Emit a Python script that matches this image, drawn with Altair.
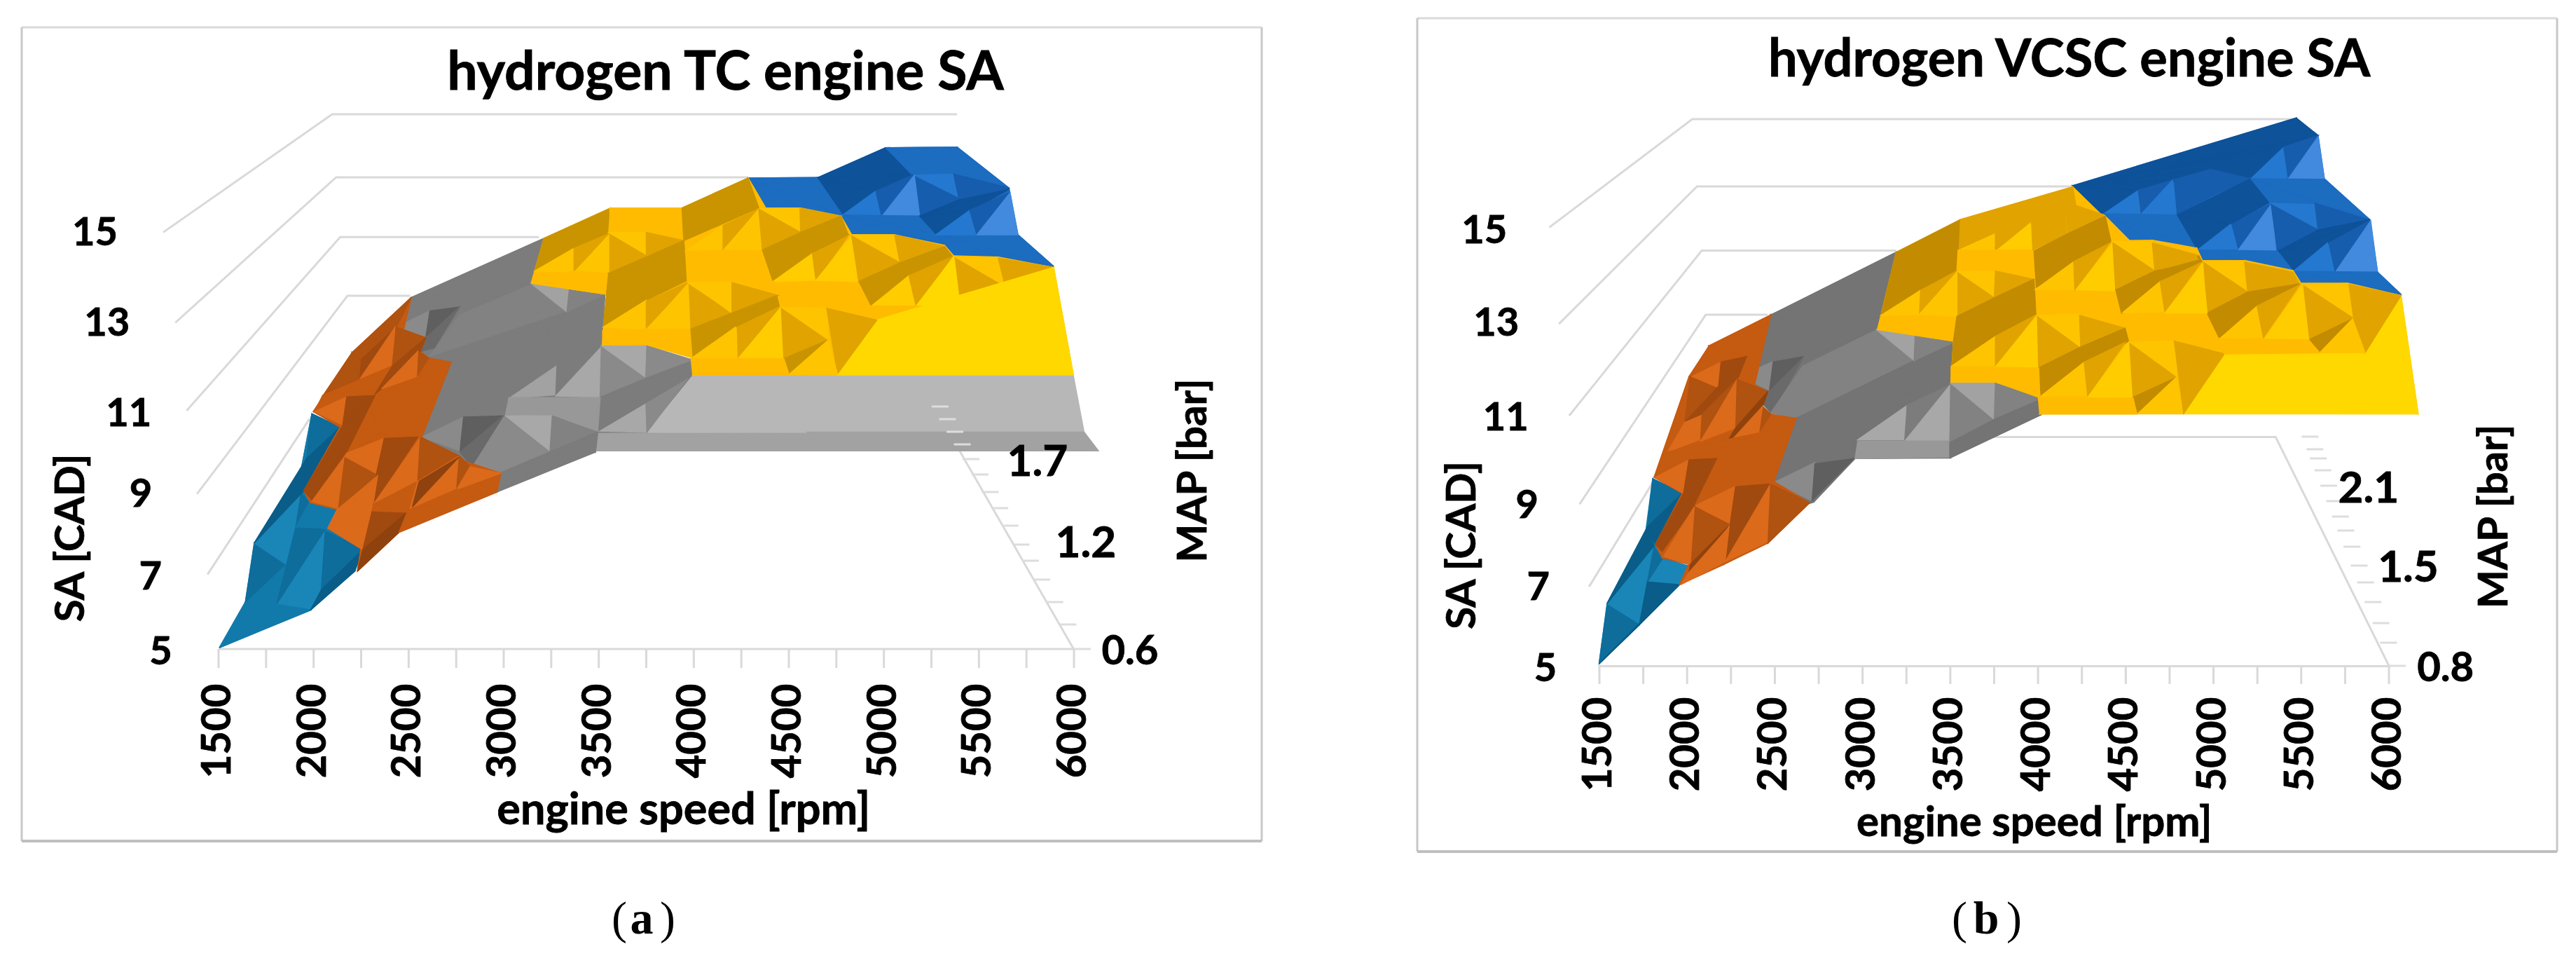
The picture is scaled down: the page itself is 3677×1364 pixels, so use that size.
import altair as alt
import pandas as pd

alt.data_transformers.disable_max_rows()

# ---- values -------------------------------------------------------------
RPM_TICKS = list(range(1500, 6001, 250))
RPM_LABELS = list(range(1500, 6001, 500))
SA_TICKS = [5, 7, 9, 11, 13, 15]

SHADES = {
    "t1": "#1A86B8", "t2": "#127AAB", "t3": "#0F6D9B", "t4": "#0A5D88",
    "o1": "#DC6A1B", "o2": "#C55A11", "o3": "#B05210", "o4": "#A04A0F", "o5": "#8F420D",
    "y1": "#A8A8A8", "y2": "#8A8A8A", "y3": "#7C7C7C", "y4": "#6A6A6A", "y5": "#5F5F5F",
    "y6": "#989898", "y7": "#B7B7B7", "y8": "#A2A2A2", "y9": "#747474", "y0": "#828282",
    "g1": "#FFD800", "g2": "#FFCC00", "g3": "#FFC400", "g4": "#FFBB00", "g5": "#E0A300",
    "g6": "#C99400", "g7": "#C28B00",
    "b1": "#418ADE", "b2": "#2478CF", "b3": "#1C6CC0", "b4": "#175DAD", "b5": "#0E5299",
}

# reading frames of the digitised vertices: x0, y0, sx, sy
Z1 = (0, 0, 1.148, 0.872)
Z2 = (1900, 0, 1.133, 0.872)
Z3 = (250, 350, 0.3827, 0.3827)
Z4 = (800, 180, 0.5102, 0.3333)
Z5 = (2250, 350, 0.3827, 0.3827)
Z6 = (2800, 150, 0.4464, 0.3333)
Z7 = (650, 330, 1 / 3, 1 / 3)
Z8 = (2650, 250, 1 / 3, 1 / 3)

TEAL_A = [
    ("t2", [(400,1200),(165,1500),(262,1330),(295,1110),(490,800),(510,628),(615,678),(480,915),(505,960),(600,985),(565,1055),(700,1135),(670,1215),(505,1360),(330,1430),(165,1500)]),
    ("t2", [(165,1500),(262,1330),(410,1195),(380,1335),(505,1360),(330,1430)]),
    ("t3", [(262,1330),(295,1115),(410,1190)]),
    ("t1", [(295,1110),(470,925),(450,1050),(415,1190)]),
    ("t3", [(450,1050),(560,1060),(380,1335)]),
    ("t1", [(385,1335),(560,1065),(550,1285),(505,1355)]),
    ("t3", [(560,1065),(700,1135),(545,1285)]),
    ("t4", [(545,1285),(700,1135),(670,1215),(505,1360)]),
    ("t3", [(470,925),(500,960),(450,1050)]),
    ("t2", [(500,960),(600,985),(565,1055),(450,1050)]),
    ("t3", [(510,628),(615,678),(490,800)]),
    ("t4", [(490,795),(615,678),(480,915),(295,1110)]),
]
ORANGE_A = [
    ("o2", [(760,700),(515,620),(660,400),(880,195),(825,305),(935,345),(915,395),(945,420),(1030,435),(920,715),(1100,825),(1215,850),(1200,920),(835,1070),(680,1215),(700,1135),(570,1055),(605,985),(505,960),(480,915),(615,678),(515,620)]),
    ("o3", [(660,400),(880,195),(825,305),(690,430)]),
    ("o4", [(825,305),(685,505),(695,425)]),
    ("o1", [(820,305),(810,450),(685,505)]),
    ("o3", [(825,305),(935,345),(810,450)]),
    ("o3", [(660,400),(690,430),(685,500),(555,555)]),
    ("o2", [(550,560),(685,505),(810,450),(770,530),(520,620)]),
    ("o1", [(520,620),(640,565),(625,670)]),
    ("o4", [(640,565),(745,560),(625,670)]),
    ("o4", [(745,560),(640,770),(510,950),(480,915),(620,680)]),
    ("o4", [(935,345),(915,395),(770,535),(745,555),(810,450)]),
    ("o3", [(905,395),(945,420),(900,490)]),
    ("o1", [(905,395),(900,490),(770,535)]),
    ("o1", [(640,775),(780,720),(750,855),(630,790)]),
    ("o4", [(780,720),(905,715),(740,965),(750,855)]),
    ("o3", [(630,790),(750,855),(610,985)]),
    ("o1", [(630,790),(605,980),(510,955)]),
    ("o1", [(915,715),(905,880),(740,965)]),
    ("o3", [(915,715),(1060,785),(905,880)]),
    ("o1", [(755,860),(735,985),(700,1135),(570,1055),(605,985)]),
    ("o4", [(735,990),(865,995),(700,1135)]),
    ("o5", [(865,995),(835,1070),(680,1215),(700,1135)]),
    ("o2", [(740,965),(905,880),(875,985),(865,995),(735,990)]),
    ("o1", [(905,880),(1060,785),(1050,910),(875,985)]),
    ("o5", [(910,880),(1058,790),(885,975)]),
    ("o3", [(1060,785),(1100,825),(1050,910)]),
    ("o1", [(1100,825),(1215,850),(1050,910)]),
    ("o2", [(875,985),(1050,910),(1200,920),(835,1070),(865,995)]),
]
GRAY_A = [
    ("y3", [(300,500),(-190,284),(380,30),(325,225),(490,228),(640,275),(625,490),(820,490),(1015,555),(1015,615),(820,860),(610,860),(600,945),(178,1116),(195,1036),(63,1007),(-144,881),(-18,559),(-115,542),(-155,510),(-127,456),(-253,410),(-190,284)]),
    ("y3", [(-190,284),(380,30),(325,225),(17,358),(-109,341)]),
    ("y0", [(17,358),(325,228),(478,345),(-115,542),(-40,440)]),
    ("y3", [(478,345),(640,275),(625,490),(430,575),(220,735),(205,790),(35,795),(-144,881),(-18,559),(-115,542)]),
    ("y2", [(-253,410),(-109,341),(-127,456)]),
    ("y5", [(-109,341),(17,324),(-127,456)]),
    ("y4", [(-127,456),(17,324),(-90,499),(-150,515)]),
    ("y8", [(330,228),(490,228),(478,345)]),
    ("y0", [(490,228),(640,270),(478,345)]),
    ("y8", [(230,715),(435,575),(430,700)]),
    ("y3", [(435,575),(620,495),(430,700)]),
    ("y1", [(430,705),(625,495),(620,710)]),
    ("y2", [(625,495),(815,625),(620,710)]),
    ("y1", [(625,490),(820,490),(815,625)]),
    ("y2", [(820,490),(1015,550),(815,625)]),
    ("y7", [(1017,618),(1500,618),(1500,860),(820,860)]),
    ("y1", [(615,855),(815,700),(820,860)]),
    ("y2", [(815,700),(1000,625),(820,860)]),
    ("y3", [(815,630),(1015,555),(1015,615),(610,855),(620,710)]),
    ("y6", [(230,712),(620,712),(610,855),(415,790),(215,785),(220,760)]),
    ("y1", [(215,790),(415,790),(405,945)]),
    ("y0", [(415,790),(605,860),(405,945)]),
    ("y2", [(205,790),(405,945),(190,1035),(70,1000)]),
    ("y3", [(605,860),(600,945),(180,1110),(190,1035)]),
    ("y2", [(-144,881),(35,795),(20,940)]),
    ("y5", [(35,795),(205,790),(70,995),(20,940)]),
    ("y4", [(20,945),(70,1005),(205,790)]),
]
GRAY_FLAT_A = [
    ("y7", [(370,1068),(1435,1068),(1465,1310),(238,1310)]),
    ("y8", [(100,1310),(1465,1310),(1505,1390),(95,1390)]),
]
GOLD_A = [
    ("g4", [(700,680),(-46,480),(140,350),(340,350),(525,222),(555,350),(670,350),(785,385),(815,465),(935,465),(1075,510),(1100,555),(1225,560),(1380,605),(1435,1065),(370,1065),(365,990),(240,935),(118,935),(130,720),(-82,672),(-46,480)]),
    ("g6", [(-46,480),(135,355),(137,465),(33,525),(-72,620)]),
    ("g4", [(140,350),(340,350),(345,490),(240,455),(135,455)]),
    ("g6", [(340,350),(525,222),(555,350),(345,490)]),
    ("g3", [(135,455),(240,455),(240,555)]),
    ("g5", [(240,455),(345,490),(240,555)]),
    ("g5", [(135,460),(240,555),(135,630)]),
    ("g3", [(35,625),(135,460),(135,630)]),
    ("g5", [(35,525),(135,460),(35,625)]),
    ("g3", [(-72,620),(35,525),(35,625)]),
    ("g4", [(-82,672),(33,620),(134,630),(131,720),(26,678)]),
    ("g6", [(135,630),(345,490),(355,660),(240,745),(120,860),(130,720)]),
    ("g3", [(350,535),(455,425),(455,525)]),
    ("g5", [(455,425),(555,355),(455,525)]),
    ("g3", [(460,525),(555,355),(565,530)]),
    ("g4", [(350,535),(565,535),(595,665),(710,665),(835,665),(870,770),(610,720),(355,665)]),
    ("g3", [(555,355),(670,350),(672,455)]),
    ("g5", [(555,355),(672,455),(565,530)]),
    ("g5", [(670,350),(785,385),(672,455)]),
    ("g6", [(672,455),(785,385),(805,465),(710,545),(595,665),(565,530)]),
    ("g2", [(595,665),(705,545),(715,660)]),
    ("g5", [(705,545),(805,470),(715,660)]),
    ("g2", [(715,660),(815,470),(830,665)]),
    ("g3", [(815,465),(935,465),(950,585)]),
    ("g5", [(815,470),(950,585),(835,665)]),
    ("g5", [(935,465),(1075,515),(950,585)]),
    ("g6", [(950,585),(1075,515),(1095,555),(995,640),(870,770),(835,665)]),
    ("g2", [(870,770),(975,640),(995,770)]),
    ("g5", [(975,640),(1095,560),(995,770)]),
    ("g1", [(995,770),(1100,560),(1120,770)]),
    ("g3", [(1105,560),(1225,560),(1245,690)]),
    ("g5", [(1105,565),(1245,690),(1120,765)]),
    ("g5", [(1225,565),(1380,605),(1280,825),(1245,690)]),
    ("g6", [(1120,770),(1245,690),(1150,825)]),
    ("g3", [(1245,690),(1280,825),(1150,825)]),
    ("g4", [(870,770),(1120,770),(1150,825),(885,830)]),
    ("g1", [(885,830),(1280,825),(1380,605),(1435,1065),(775,1065)]),
    ("g3", [(120,860),(240,745),(240,870)]),
    ("g5", [(240,750),(355,670),(240,870)]),
    ("g3", [(240,870),(360,675),(360,870)]),
    ("g5", [(360,680),(480,800),(365,865)]),
    ("g3", [(360,670),(480,670),(480,800)]),
    ("g5", [(480,670),(610,725),(480,800)]),
    ("g6", [(480,800),(605,725),(612,770),(490,860),(370,990),(362,870)]),
    ("g3", [(370,990),(490,860),(497,995)]),
    ("g5", [(495,860),(612,775),(497,995)]),
    ("g2", [(497,995),(618,775),(625,995)]),
    ("g5", [(618,775),(750,915),(625,995)]),
    ("g3", [(618,775),(745,780),(750,915)]),
    ("g5", [(745,780),(885,830),(775,1060)]),
    ("g6", [(625,995),(750,915),(640,1060)]),
    ("g3", [(640,1062),(750,915),(775,1062)]),
    ("g4", [(370,995),(625,995),(640,1065),(370,1065)]),
    ("g4", [(118,875),(240,870),(362,870),(368,990),(240,935),(118,935)]),
]
BLUE_A = [
    ("b3", [(1000,350),(525,222),(720,220),(910,92),(1110,90),(1255,265),(1280,465),(1380,600),(1225,560),(1100,555),(1075,510),(935,465),(815,465),(785,385),(670,350),(555,350),(525,222)]),
    ("b3", [(525,222),(720,220),(785,380),(670,350),(555,350)]),
    ("b5", [(720,220),(910,92),(985,210),(880,280),(790,375)]),
    ("b3", [(910,92),(1110,90),(1255,265),(985,210)]),
    ("b2", [(985,210),(1100,205),(1115,310)]),
    ("b4", [(1100,205),(1255,265),(1115,310)]),
    ("b4", [(985,210),(1115,310),(1005,385)]),
    ("b4", [(880,280),(985,210),(900,385)]),
    ("b2", [(790,380),(880,280),(895,385)]),
    ("b1", [(900,385),(990,210),(1005,385)]),
    ("b3", [(790,380),(1005,385),(1050,460),(1075,510),(935,465),(815,465)]),
    ("b3", [(1050,460),(1280,465),(1380,600),(1225,560),(1100,555),(1075,510)]),
    ("b5", [(1005,385),(1115,315),(1255,270),(1150,360),(1050,460)]),
    ("b2", [(1050,465),(1145,360),(1165,465)]),
    ("b4", [(1145,360),(1255,285),(1165,465)]),
    ("b1", [(1165,465),(1258,285),(1280,465)]),
]

TEAL_B = [
    ("t2", [(280,1200),(85,1560),(115,1335),(260,1060),(285,870),(395,925),(295,1115),(320,1165),(415,1195),(385,1265),(235,1415),(85,1560)]),
    ("t3", [(85,1560),(115,1340),(235,1415)]),
    ("t1", [(115,1335),(290,1120),(265,1255),(235,1410)]),
    ("t1", [(265,1260),(320,1170),(415,1195),(385,1265)]),
    ("t3", [(290,1125),(320,1170),(265,1255)]),
    ("t4", [(235,1415),(265,1255),(385,1265)]),
    ("t4", [(85,1560),(235,1410),(385,1265),(235,1415)]),
    ("t4", [(115,1335),(260,1060),(290,1120)]),
    ("t3", [(285,870),(395,925),(265,1050)]),
    ("t4", [(265,1050),(395,925),(295,1115),(260,1060)]),
]
ORANGE_B = [
    ("o2", [(600,800),(290,865),(420,490),(495,375),(725,260),(605,490),(715,545),(695,600),(725,630),(820,645),(735,885),(870,960),(715,1110),(550,1190),(385,1265),(420,1190),(320,1165),(295,1115),(395,925),(290,865)]),
    ("o2", [(495,375),(725,260),(635,415),(540,435),(430,485)]),
    ("o1", [(430,490),(540,435),(530,535)]),
    ("o4", [(540,435),(635,415),(530,535)]),
    ("o3", [(425,490),(530,535),(405,660)]),
    ("o4", [(635,415),(605,490),(465,630),(340,770),(405,660),(530,535)]),
    ("o3", [(465,635),(600,500),(460,725)]),
    ("o1", [(465,730),(600,500),(595,680)]),
    ("o3", [(600,500),(715,545),(595,680)]),
    ("o5", [(715,545),(695,600),(540,770),(595,680)]),
    ("o3", [(695,600),(725,630),(680,700)]),
    ("o1", [(695,600),(680,700),(540,770)]),
    ("o1", [(405,660),(465,635),(460,725),(340,770)]),
    ("o2", [(300,855),(340,770),(680,700),(520,795),(420,795)]),
    ("o1", [(295,865),(420,800),(400,925)]),
    ("o4", [(420,800),(525,795),(450,965),(400,925)]),
    ("o4", [(525,795),(440,975),(320,1140),(295,1115),(400,925)]),
    ("o2", [(530,790),(820,645),(735,885),(590,900),(445,965)]),
    ("o1", [(445,970),(590,900),(570,1040)]),
    ("o4", [(595,900),(720,890),(555,1175),(575,1040)]),
    ("o3", [(440,975),(570,1040),(425,1190)]),
    ("o1", [(440,975),(425,1190),(325,1160)]),
    ("o5", [(565,1050),(420,1225),(425,1190)]),
    ("o1", [(570,1050),(555,1180),(390,1265),(420,1220)]),
    ("o1", [(725,890),(715,1105),(555,1180)]),
    ("o3", [(725,890),(870,960),(715,1110)]),
]
GRAY_B = [
    ("y9", [(1000,550),(725,260),(1195,25),(1120,315),(1265,315),(1410,360),(1395,515),(1564,514),(1733,570),(1733,632),(1394,793),(1040,795),(885,958),(860,965),(725,885),(820,645),(725,625),(695,590),(715,545),(610,490),(725,260)]),
    ("y9", [(725,260),(1195,25),(1120,315),(845,425),(735,435),(610,490)]),
    ("y2", [(610,490),(730,435),(720,540)]),
    ("y5", [(735,435),(845,415),(720,545)]),
    ("y4", [(720,545),(845,420),(730,625),(695,590)]),
    ("y0", [(845,450),(1120,315),(1260,430),(820,645),(725,625)]),
    ("y9", [(820,645),(1260,430),(1410,360),(1395,515),(1235,590),(1040,730),(1035,795),(890,810),(735,880)]),
    ("y8", [(1120,315),(1265,315),(1260,430)]),
    ("y0", [(1265,315),(1410,360),(1260,430)]),
    ("y2", [(735,885),(890,810),(875,950)]),
    ("y5", [(890,815),(1035,795),(880,950)]),
    ("y1", [(1050,725),(1230,600),(1225,725)]),
    ("y3", [(1235,595),(1395,520),(1225,725)]),
    ("y1", [(1225,730),(1395,520),(1390,730)]),
    ("y6", [(1050,730),(1390,730),(1390,790),(1040,795)]),
]
GRAY_B2 = [
    ("y0", [(403,895),(590,1045),(400,1140)]),
    ("y8", [(403,890),(595,890),(590,1045)]),
    ("y0", [(595,890),(790,955),(590,1045)]),
    ("y9", [(400,1145),(590,1045),(790,960),(790,1025),(400,1210)]),
]
GOLD_B_UNDER = [
    ("g4", [(700,800),(-209,630),(-4,490),(355,350),(366,430),(455,470),(480,580),(610,578),(752,612),(770,665),(905,665),(1060,708),(1085,762),(1235,762),(1405,815),(1460,1322),(250,1322),(245,1250),(108,1185),(-34,1185),(-26,1010),(-149,960),(-269,960),(-258,900),(-209,630)]),
]
GOLD_B1 = [
    ("g7", [(170,330),(445,190),(430,405),(270,495),(105,600)]),
    ("g5", [(445,190),(925,50),(940,130),(1060,170),(900,155),(750,200),(595,250),(440,320)]),
    ("g3", [(440,320),(595,250),(595,320)]),
    ("g5", [(595,250),(745,200),(595,320)]),
    ("g2", [(600,325),(745,205),(755,320)]),
    ("g5", [(750,205),(905,250),(755,320)]),
    ("g5", [(750,205),(895,160),(900,250)]),
    ("g5", [(900,155),(1060,175),(905,250)]),
    ("g7", [(760,325),(905,250),(1065,175),(1090,285),(770,480)]),
    ("g4", [(435,320),(750,320),(758,445),(595,410),(430,405)]),
    ("g3", [(430,410),(595,410),(590,525)]),
    ("g5", [(595,410),(755,445),(590,525)]),
    ("g5", [(430,415),(590,525),(430,605)]),
    ("g5", [(270,495),(430,410),(265,600)]),
    ("g3", [(265,600),(430,415),(430,605)]),
    ("g3", [(105,600),(270,495),(265,600)]),
    ("g4", [(90,660),(105,605),(265,600),(430,610),(415,710),(250,660)]),
    ("g7", [(430,605),(590,525),(760,445),(768,595),(595,685),(410,815),(415,710)]),
    ("g3", [(765,490),(930,370),(935,490)]),
    ("g5", [(930,370),(1085,290),(935,490)]),
    ("g2", [(940,490),(1098,290),(1110,495)]),
    ("g5", [(1098,290),(1270,405),(1110,490)]),
    ("g3", [(1100,285),(1265,285),(1275,405)]),
    ("g5", [(1270,290),(1465,345),(1275,405)]),
    ("g7", [(1110,490),(1275,405),(1465,345),(1480,370),(1310,465),(1135,590)]),
    ("g3", [(410,815),(595,690),(595,815)]),
    ("g5", [(595,690),(765,600),(595,815)]),
    ("g2", [(595,820),(775,600),(780,825)]),
    ("g5", [(775,600),(960,735),(780,825)]),
    ("g3", [(775,600),(955,595),(960,735)]),
    ("g5", [(955,600),(1150,655),(960,730)]),
    ("g7", [(780,825),(960,735),(1150,655),(1165,710),(985,820),(790,945)]),
    ("g4", [(405,820),(780,825),(785,945),(595,885),(405,885)]),
    ("g3", [(790,945),(975,800),(990,945)]),
    ("g5", [(975,800),(1150,715),(990,945)]),
    ("g2", [(990,950),(1165,715),(1180,950)]),
    ("g5", [(1170,715),(1370,860),(1185,950)]),
    ("g3", [(1170,715),(1365,710),(1370,860)]),
    ("g7", [(1185,950),(1370,865),(1205,1020)]),
    ("g3", [(1205,1020),(1370,865),(1400,1020)]),
    ("g4", [(790,955),(1185,955),(1200,1022),(790,1022)]),
]
GOLD_B2 = [
    ("g1", [(715,1320),(840,1065),(1290,1060),(1405,815),(1460,1322)]),
    ("g5", [(680,1010),(840,1065),(710,1320)]),
    ("g5", [(1230,765),(1405,815),(1290,1060),(1250,910)]),
    ("g3", [(1090,770),(1235,765),(1250,910)]),
    ("g5", [(1090,770),(1250,910),(1110,1005)]),
    ("g7", [(1110,1005),(1250,915),(1145,1060)]),
    ("g3", [(1145,1060),(1250,915),(1290,1060)]),
    ("g3", [(775,670),(905,670),(915,800)]),
    ("g5", [(775,675),(915,800),(785,890)]),
    ("g5", [(905,672),(1060,715),(1080,765),(915,800)]),
    ("g7", [(785,890),(915,800),(1080,765),(950,860),(825,1000)]),
    ("g3", [(825,1000),(945,860),(965,995)]),
    ("g5", [(945,860),(1080,770),(965,995)]),
    ("g2", [(970,1000),(1090,770),(1110,1005)]),
    ("g4", [(820,1000),(1110,1005),(1145,1060),(840,1065)]),
    ("g3", [(480,585),(610,585),(618,710)]),
    ("g5", [(485,590),(618,710),(495,790)]),
    ("g5", [(610,590),(750,640),(755,660),(618,710)]),
    ("g7", [(495,790),(618,710),(765,670),(640,760),(515,890)]),
    ("g3", [(515,888),(635,755),(650,885)]),
    ("g5", [(635,755),(765,675),(650,885)]),
    ("g2", [(650,890),(770,680),(785,890)]),
]
BLUE_B = [
    ("b3", [(900,450),(355,345),(1070,55),(1140,130),(1160,315),(1305,490),(1330,715),(1405,810),(1235,765),(1085,765),(1060,712),(905,668),(765,670),(750,615),(610,580),(480,580),(455,465),(370,435),(355,345)]),
    ("b5", [(355,345),(1070,55),(1140,130),(1030,180),(925,315),(790,275),(675,320),(565,365),(455,465),(370,435)]),
    ("b2", [(455,465),(565,365),(570,465)]),
    ("b4", [(565,365),(675,320),(575,465)]),
    ("b2", [(575,465),(675,320),(690,470)]),
    ("b4", [(675,320),(795,275),(805,385)]),
    ("b4", [(680,325),(805,385),(690,470)]),
    ("b4", [(795,275),(925,315),(805,385)]),
    ("b2", [(925,315),(1030,180),(1040,315)]),
    ("b4", [(1030,180),(1140,130),(1045,310)]),
    ("b1", [(1045,315),(1140,135),(1160,315)]),
    ("b3", [(455,465),(690,470),(750,615),(610,580),(480,580)]),
    ("b5", [(690,470),(925,315),(985,415),(860,510),(755,620)]),
    ("b2", [(755,620),(860,510),(885,615)]),
    ("b4", [(865,510),(985,425),(885,615)]),
    ("b1", [(885,620),(990,425),(1005,625)]),
    ("b3", [(925,315),(1160,318),(1305,490),(1130,420),(985,415)]),
    ("b2", [(985,420),(1130,425),(1140,530)]),
    ("b4", [(1130,420),(1300,490),(1140,535)]),
    ("b4", [(990,425),(1140,535),(1010,620)]),
    ("b5", [(1010,625),(1140,535),(1305,490),(1175,590),(1060,710)]),
    ("b2", [(1060,712),(1170,590),(1195,715)]),
    ("b4", [(1175,590),(1305,495),(1195,715)]),
    ("b1", [(1195,715),(1308,495),(1330,715)]),
    ("b3", [(755,620),(1010,625),(1060,710),(905,668),(765,670)]),
    ("b3", [(1060,712),(1330,715),(1405,810),(1235,765),(1085,765)]),
]

SURFACE_A = [(Z4, GRAY_FLAT_A), (Z7, GRAY_A), (Z4, BLUE_A), (Z4, GOLD_A), (Z3, TEAL_A), (Z3, ORANGE_A)]
SURFACE_B = [(Z5, GRAY_B), (Z8, GRAY_B2), (Z6, BLUE_B), (Z6, GOLD_B_UNDER), (Z8, GOLD_B1), (Z6, GOLD_B2), (Z5, TEAL_B), (Z5, ORANGE_B)]

# wall / floor gridlines, frame: reading frame of Z1 (a) and Z2 (b)
GRID_A = [
    [(203,380),(413,187),(1190,187)], [(218,528),(418,290),(930,290)],
    [(232,672),(423,388),(670,388)], [(245,808),(432,484),(510,484)],
    [(258,940),(385,685)], [(272,1062),(1335,1062),(1192,735)],
]
GRID_B = [
    [(275,372),(455,195),(1215,195)], [(287,530),(461,305),(935,305)],
    [(300,680),(467,410),(712,410)], [(313,825),(472,515),(550,515)],
    [(325,960),(405,790)], [(338,1090),(1333,1090),(1190,715),(770,715)],
]
MAP_TICK_Y_A = [926,891,859,827,800,777,750,725,702,677,655,634,616,598,580]
MAP_TICK_Y_B = [950,917,889,859,831,807,780,757,737,715,693,671,654,641,623]

TITLE_A, TITLE_B = "hydrogen TC engine SA", "hydrogen VCSC engine SA"
SA_LABEL_POS_A = [(200,1068),(187,945),(175,810),(160,678),(133,530),(118,382)]
SA_LABEL_POS_B = [(270,1095),(261,962),(247,828),(220,685),(208,530),(193,378)]
TEXTS_A = [
    (TITLE_A, 902, 120, 77, 0), ("engine speed [rpm]", 850, 1327, 63, 0),
    ("SA [CAD]", 90, 880, 58, 270), ("MAP [bar]", 1485, 770, 58, 270),
    ("1.7", 1290, 757, 62, 0), ("1.2", 1350, 890, 62, 0), ("0.6", 1405, 1068, 58, 0),
]
TEXTS_B = [
    (TITLE_B, 930, 100, 74, 0), ("engine speed [rpm]", 886, 1347, 60, 0),
    ("SA [CAD]", 167, 892, 58, 270), ("MAP [bar]", 1467, 845, 58, 270),
    ("2.1", 1307, 800, 62, 0), ("1.5", 1357, 930, 62, 0), ("0.8", 1404, 1095, 58, 0),
]
CAL_A = dict(org=8, w=1904, x0=312, x1=1533, ys=[926, 820, 705, 586, 460, 331],
             frame=[31, 39, 1801, 1200], tick=(0.587, 1533, 926, 634), lab=1043,
             cap=[("(", 884), ("a", 916), (")", 953)])
CAL_B = dict(org=1912, w=1757, x0=2283, x1=3410, ys=[949, 837, 719, 593, 462, 324],
             frame=[2023, 26, 3650, 1215], tick=(0.381, 3410, 950, 623), lab=1062,
             cap=[("(", 2797), ("b", 2835), (")", 2875)])
PAGE_H = 1348


def reader(frame):
    x0, y0, sx, sy = frame
    return lambda p: (x0 + p[0] * sx, y0 + p[1] * sy)


def triangle_rows(t):
    rows = []
    for x in sorted({p[0] for p in t}):
        ys = []
        for i in range(3):
            a, b = t[i], t[(i + 1) % 3]
            if min(a[0], b[0]) <= x <= max(a[0], b[0]):
                if a[0] == b[0]:
                    ys += [a[1], b[1]]
                else:
                    ys.append(a[1] + (b[1] - a[1]) * (x - a[0]) / (b[0] - a[0]))
        rows.append((x, min(ys), max(ys)))
    return rows


def panel(cal, surface, grid, grid_frame, map_ticks, sa_pos, texts):
    org, ys = cal["org"], cal["ys"]
    x_s = alt.Scale(domain=[RPM_TICKS[0], RPM_TICKS[-1]],
                    range=[cal["x0"] - org, cal["x1"] - org], nice=False, zero=False)
    y_s = alt.Scale(domain=SA_TICKS, range=[v - 8 for v in ys], nice=False, zero=False)

    def rpm(X):
        return 1500 + (X - cal["x0"]) * 4500 / (cal["x1"] - cal["x0"])

    def sa(Y):
        i = 0
        while i < len(ys) - 2 and Y < ys[i + 1]:
            i += 1
        return SA_TICKS[i] + (Y - ys[i]) * (SA_TICKS[i + 1] - SA_TICKS[i]) / (ys[i + 1] - ys[i])

    # surface facets
    area_rows, fid = [], 0
    for frame, facets in surface:
        r = reader(frame)
        for shade, verts in facets:
            pts = [r(v) for v in verts]
            for k in range(1, len(pts) - 1):
                fid += 1
                for j, (x, top, bottom) in enumerate(triangle_rows([pts[0], pts[k], pts[k + 1]])):
                    area_rows.append(dict(id=fid, i=j, x=rpm(x), y=sa(top), y2=sa(bottom), c=SHADES[shade]))
    area = alt.Chart(pd.DataFrame(area_rows)).mark_area(strokeWidth=1.5, orient="vertical").encode(
        x=alt.X("x:Q", scale=x_s, axis=None),
        y=alt.Y("y:Q", scale=y_s, axis=None, stack=None),
        y2="y2:Q",
        detail="id:N",
        fill=alt.Fill("c:N", scale=None),
        stroke=alt.Stroke("c:N", scale=None),
    )

    # lines
    line_rows, lid = [], 0

    def add(points, color, w):
        nonlocal lid
        lid += 1
        for j, (X, Y) in enumerate(points):
            line_rows.append(dict(id=lid, i=j, x=rpm(X), y=sa(Y), c=color, w=w))

    g = reader(grid_frame)
    for pl in grid:
        add([g(p) for p in pl], "#D9D9D9", 3)
    for v in RPM_TICKS:
        X = cal["x0"] + (v - 1500) * (cal["x1"] - cal["x0"]) / 4500
        add([(X, ys[0]), (X, ys[0] + 27)], "#D9D9D9", 3)
    l, t, rt, b = cal["frame"]
    add([(l, t), (rt, t)], "#DADADA", 3)
    add([(rt, t), (rt, b)], "#C8C8C8", 3)
    add([(l, t), (l, b)], "#C8C8C8", 3)
    add([(l, b), (rt, b)], "#BFBFBF", 4)
    line_enc = dict(
        x=alt.X("x:Q", scale=x_s, axis=None),
        y=alt.Y("y:Q", scale=y_s, axis=None),
        detail="id:N",
        order=alt.Order("i:Q"),
        color=alt.Color("c:N", scale=None),
        strokeWidth=alt.StrokeWidth("w:Q", scale=None),
    )
    lines = alt.Chart(pd.DataFrame(line_rows)).mark_line().encode(**line_enc)

    # MAP axis ticks are seen on top of the surface
    n0 = lid
    line_rows2 = []
    slope, xc, yc, _ = cal["tick"]
    for k, Y in enumerate(map_ticks):
        X = xc - (yc - Y) * slope
        for j, P in enumerate([(X, Y), (X + 24, Y)]):
            line_rows2.append(dict(id=n0 + k + 1, i=j, x=rpm(P[0]), y=sa(P[1]), c="#DDDDDD", w=3))
    ticks = alt.Chart(pd.DataFrame(line_rows2)).mark_line().encode(**line_enc)

    # text
    txt = []
    for s, dx, dy, size, ang in texts:
        X, Y = g((dx, dy))
        txt.append(dict(t=s, x=rpm(X), y=sa(Y), s=size, a=ang))
    for v, p in zip(SA_TICKS, sa_pos):
        X, Y = g(p)
        txt.append(dict(t=str(v), x=rpm(X), y=sa(Y), s=56, a=0))
    for v in RPM_LABELS:
        txt.append(dict(t=str(v), x=v, y=sa(cal["lab"]), s=58, a=270))
    labels = alt.Chart(pd.DataFrame(txt)).mark_text(
        font="Lato", fontWeight="bold", align="center", baseline="middle", color="#000000",
        stroke="#000000", strokeWidth=0.8,
    ).encode(
        x=alt.X("x:Q", scale=x_s, axis=None),
        y=alt.Y("y:Q", scale=y_s, axis=None),
        text="t:N",
        size=alt.Size("s:Q", scale=None),
        angle=alt.Angle("a:Q", scale=None),
    )
    cap_rows = [dict(t=s, x=rpm(X), y=sa(1312), f="bold" if s not in "()" else "normal") for s, X in cal["cap"]]
    cap_n = alt.Chart(pd.DataFrame([c for c in cap_rows if c["f"] == "normal"])).mark_text(
        font="Liberation Serif", fontSize=66, align="center", baseline="middle", color="#000000"
    ).encode(x=alt.X("x:Q", scale=x_s, axis=None), y=alt.Y("y:Q", scale=y_s, axis=None), text="t:N")
    cap_b = alt.Chart(pd.DataFrame([c for c in cap_rows if c["f"] == "bold"])).mark_text(
        font="Liberation Serif", fontWeight="bold", fontSize=66, align="center", baseline="middle", color="#000000"
    ).encode(x=alt.X("x:Q", scale=x_s, axis=None), y=alt.Y("y:Q", scale=y_s, axis=None), text="t:N")

    return alt.layer(lines, area, ticks, labels, cap_n, cap_b).properties(width=cal["w"], height=PAGE_H)


chart_a = panel(CAL_A, SURFACE_A, GRID_A, Z1, MAP_TICK_Y_A, SA_LABEL_POS_A, TEXTS_A)
chart_b = panel(CAL_B, SURFACE_B, GRID_B, Z2, MAP_TICK_Y_B, SA_LABEL_POS_B, TEXTS_B)

chart = alt.hconcat(chart_a, chart_b, spacing=0).properties(
    padding=0, background="#FFFFFF"
).configure_view(stroke=None)

chart.save("out.html", embed_options={"renderer": "svg", "actions": False})
